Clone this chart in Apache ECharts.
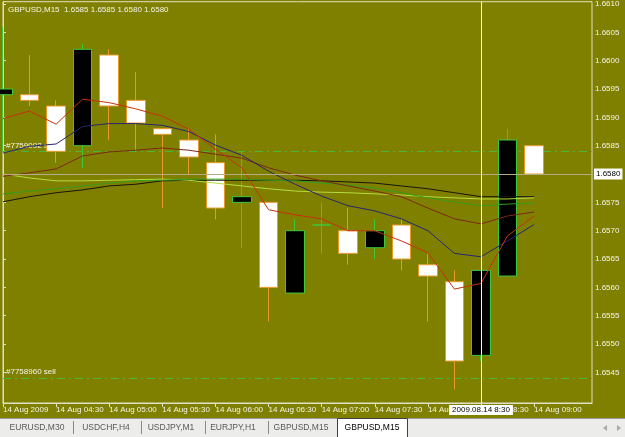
<!DOCTYPE html>
<html>
<head>
<meta charset="utf-8">
<title>GBPUSD,M15</title>
<script src="https://cdn.jsdelivr.net/npm/echarts@6/dist/echarts.min.js"></script>
<style>
  html, body { margin: 0; padding: 0; background: #808000; }
  #chart { width: 625px; height: 437px; }
</style>
</head>
<body>
<div id="chart"></div>
<script>
// GBPUSD M15, 14 Aug 2009, one bar per 15 min from 04:00 to 09:00
const opens  = [1.6594, 1.6594, 1.6592, 1.6585, 1.6601, 1.6593, 1.6588, 1.6586, 1.6582, 1.6575, 1.6575,
                1.6559, 1.6571, 1.6570, 1.6567, 1.6571, 1.6564, 1.6561, 1.6548, 1.6562, 1.6585]
const closes = [1.6595, 1.6593, 1.6584, 1.6602, 1.6592, 1.6589, 1.6587, 1.6583, 1.6574, 1.6576, 1.6560,
                1.6570, 1.6571, 1.6566, 1.6570, 1.6565, 1.6562, 1.6547, 1.6563, 1.6586, 1.6580]
const lows   = [1.6584, 1.6592, 1.6582, 1.6581, 1.6586, 1.6584, 1.6574, 1.6580, 1.6572, 1.6567, 1.6554,
                1.6559, 1.6566, 1.6564, 1.6565, 1.6563, 1.6554, 1.6542, 1.6547, 1.6562, 1.6580]
const highs  = [1.6606, 1.6601, 1.6593, 1.6603, 1.6602, 1.6598, 1.6588, 1.6588, 1.6587, 1.6584, 1.6575,
                1.6572, 1.6575, 1.6574, 1.6572, 1.6572, 1.6566, 1.6563, 1.6563, 1.6588, 1.6585]

// moving averages
const maRed    = [1.65898, 1.65911, 1.65888, 1.65932, 1.65926, 1.65915, 1.65902, 1.65879, 1.65844, 1.65811, 1.65737,
                  1.65728, 1.65721, 1.65700, 1.65700, 1.65682, 1.65661, 1.65597, 1.65607, 1.65691, 1.65726]
const maMaroon = [1.65796, 1.65802, 1.65809, 1.65832, 1.65839, 1.65842, 1.65846, 1.65842, 1.65835, 1.65828, 1.65811,
                  1.65798, 1.65788, 1.65779, 1.65770, 1.65760, 1.65740, 1.65721, 1.65712, 1.65726, 1.65733]
const maNavy   = [1.65837, 1.65849, 1.65853, 1.65884, 1.65889, 1.65889, 1.65886, 1.65875, 1.65851, 1.65833, 1.65805,
                  1.65782, 1.65761, 1.65744, 1.65735, 1.65721, 1.65700, 1.65660, 1.65654, 1.65682, 1.65711]
const maBlack  = [1.65751, 1.65760, 1.65767, 1.65772, 1.65779, 1.65782, 1.65788, 1.65789, 1.65789, 1.65789, 1.65789,
                  1.65789, 1.65788, 1.65786, 1.65784, 1.65779, 1.65774, 1.65767, 1.65760, 1.65760, 1.65760]
const maGreen  = [1.65765, 1.65770, 1.65774, 1.65779, 1.65784, 1.65788, 1.65789, 1.65791, 1.65791, 1.65791, 1.65789,
                  1.65788, 1.65784, 1.65781, 1.65775, 1.65767, 1.65758, 1.65751, 1.65744, 1.65747, 1.65749]
const maLime   = [1.65800, 1.65793, 1.65788, 1.65788, 1.65789, 1.65790, 1.65791, 1.65789, 1.65784, 1.65779, 1.65774,
                  1.65770, 1.65768, 1.65767, 1.65765, 1.65763, 1.65760, 1.65758, 1.65756, 1.65756, 1.65758]

const timeLabels = ['14 Aug 2009', '14 Aug 04:30', '14 Aug 05:00', '14 Aug 05:30', '14 Aug 06:00', '14 Aug 06:30',
                    '14 Aug 07:00', '14 Aug 07:30', '14 Aug 08:00', '14 Aug 08:30', '14 Aug 09:00']
const priceTicks = [1.6545, 1.6550, 1.6555, 1.6560, 1.6565, 1.6570, 1.6575, 1.6580,
                    1.6585, 1.6590, 1.6595, 1.6600, 1.6605, 1.6610]

const orderLabels = ['#7759092 sell', '#7758960 sell']
const orderPrices = [1.6584, 1.6544]
const bidPrice = 1.6580
const crossBar = 18
const crossLabel = '2009.08.14 8:30'
const header = 'GBPUSD,M15  1.6585 1.6585 1.6580 1.6580'
const tabs = ['EURUSD,M30', 'USDCHF,H4', 'USDJPY,M1', 'EURJPY,H1', 'GBPUSD,M15', 'GBPUSD,M15']

const FONT = '"Liberation Sans", Arial, sans-serif'
const FG = '#f4f4ea'

const candles = opens.map((o, i) => [i, o, closes[i], lows[i], highs[i]])
const toLine = (arr) => arr.map((v, i) => [i, v])

function maSeries(name, arr, color, extra) {
  return {
    name,
    type: 'line',
    data: toLine(arr),
    symbol: 'none',
    z: 4,
    silent: true,
    lineStyle: { color, width: 1 },
    ...extra,
  }
}

// tab bar under the chart
const tabX = [37, 106, 171, 233, 301, 372]
const sepX = [73, 141, 205, 268]
const graphics = [
  { type: 'rect', shape: { x: 0, y: 418, width: 625, height: 19 }, style: { fill: '#ececea' }, z: 10 },
  { type: 'line', shape: { x1: 0, y1: 418.5, x2: 625, y2: 418.5 }, style: { stroke: '#9a9a9a', lineWidth: 1 }, z: 11 },
  { type: 'rect', shape: { x: 337.5, y: 418.5, width: 70, height: 19 }, style: { fill: '#ffffff', stroke: '#404040', lineWidth: 1 }, z: 11 },
  ...sepX.map((x) => ({
    type: 'line', shape: { x1: x + 0.5, y1: 421, x2: x + 0.5, y2: 434 }, style: { stroke: '#8a8a8a', lineWidth: 1 }, z: 11,
  })),
  ...tabs.map((t, k) => ({
    type: 'text', x: tabX[k], y: 428, z: 12,
    style: {
      text: t, fill: k === tabs.length - 1 ? '#000000' : '#5a5a5a',
      font: `8.5px ${FONT}`, align: 'center', verticalAlign: 'middle',
    },
  })),
  { type: 'polygon', shape: { points: [[603, 428], [607, 425], [607, 431]] }, style: { fill: '#a8a8a8' }, z: 12 },
  { type: 'polygon', shape: { points: [[621, 428], [617, 425], [617, 431]] }, style: { fill: '#a8a8a8' }, z: 12 },
]

const chart = echarts.init(document.getElementById('chart'))
chart.setOption({
  animation: false,
  backgroundColor: '#808000',
  textStyle: { fontFamily: FONT },
  title: {
    text: header, left: 3, top: 1,
    textStyle: { color: FG, fontSize: 8, fontWeight: 'normal', fontFamily: FONT },
  },
  grid: { left: 2, right: 33, top: 0, bottom: 34, show: true, borderColor: '#e0e0c8', borderWidth: 1, backgroundColor: 'transparent' },
  xAxis: {
    type: 'value',
    min: 0,
    max: 22.18,
    axisLine: { show: true, lineStyle: { color: '#e0e0c8' } },
    axisTick: { show: true, length: 4, customValues: timeLabels.map((_, k) => k * 2), lineStyle: { color: '#e0e0c8' } },
    axisLabel: {
      customValues: timeLabels.map((_, k) => k * 2),
      formatter: (v) => timeLabels[Math.round(v / 2)],
      color: FG, fontSize: 8, align: 'left', margin: 3, fontFamily: FONT,
    },
    splitLine: { show: false },
  },
  yAxis: {
    type: 'value',
    position: 'right',
    min: 1.65396,
    max: 1.66104,
    axisLine: { show: true, lineStyle: { color: '#e0e0c8' } },
    axisTick: { show: true, length: 3, customValues: priceTicks, lineStyle: { color: '#e0e0c8' } },
    axisLabel: {
      customValues: priceTicks,
      formatter: (v) => v.toFixed(4),
      color: FG, fontSize: 8, margin: 3, fontFamily: FONT,
    },
    splitLine: { show: false },
  },
  graphic: graphics,
  series: [
    {
      type: 'candlestick',
      data: candles,
      dimensions: ['x', 'open', 'close', 'lowest', 'highest'],
      encode: { x: 'x', y: ['open', 'close', 'lowest', 'highest'] },
      barWidth: 19,
      clip: false,
      z: 3,
      silent: true,
      itemStyle: {
        color: '#000000',
        color0: '#ffffff',
        borderColor: '#3cc83c',
        borderColor0: '#e89a28',
        borderWidth: 1,
      },
      // order lines, drawn under the candles
      markLine: {
        z: 1,
        silent: true,
        precision: 5,
        symbol: ['none', 'none'],
        lineStyle: { color: '#48b83a', type: [8, 4, 2, 4], width: 1 },
        label: {
          show: true, position: 'insideStartTop', formatter: '{b}', distance: [3, 2],
          color: FG, fontSize: 8, fontFamily: FONT,
        },
        data: orderPrices.map((p, k) => ({ yAxis: p, name: orderLabels[k] })),
      },
    },
    maSeries('black', maBlack, '#161610'),
    maSeries('lime', maLime, '#b6dc3c'),
    maSeries('green', maGreen, '#349c1e'),
    maSeries('maroon', maMaroon, '#7c2814'),
    maSeries('navy', maNavy, '#26266e'),
    maSeries('red', maRed, '#c8300a', {
      // bid line and crosshair
      markLine: {
        z: 6,
        silent: true,
        precision: 5,
        symbol: ['none', 'none'],
        data: [
          {
            yAxis: bidPrice,
            lineStyle: { color: '#b4ac88', type: 'solid', width: 1 },
            label: {
              show: true, position: 'end', distance: 2, formatter: bidPrice.toFixed(4),
              backgroundColor: '#ffffff', color: '#000000', padding: [2, 2, 1, 2], fontSize: 8, fontFamily: FONT,
            },
          },
          {
            xAxis: crossBar,
            lineStyle: { color: '#f4f4ee', type: 'solid', width: 1 },
            label: {
              show: true, position: 'start', distance: 2, formatter: crossLabel,
              backgroundColor: '#ffffff', color: '#000000', padding: [1, 3, 1, 3], fontSize: 8, fontFamily: FONT,
            },
          },
        ],
      },
    }),
  ],
})
</script>
</body>
</html>
